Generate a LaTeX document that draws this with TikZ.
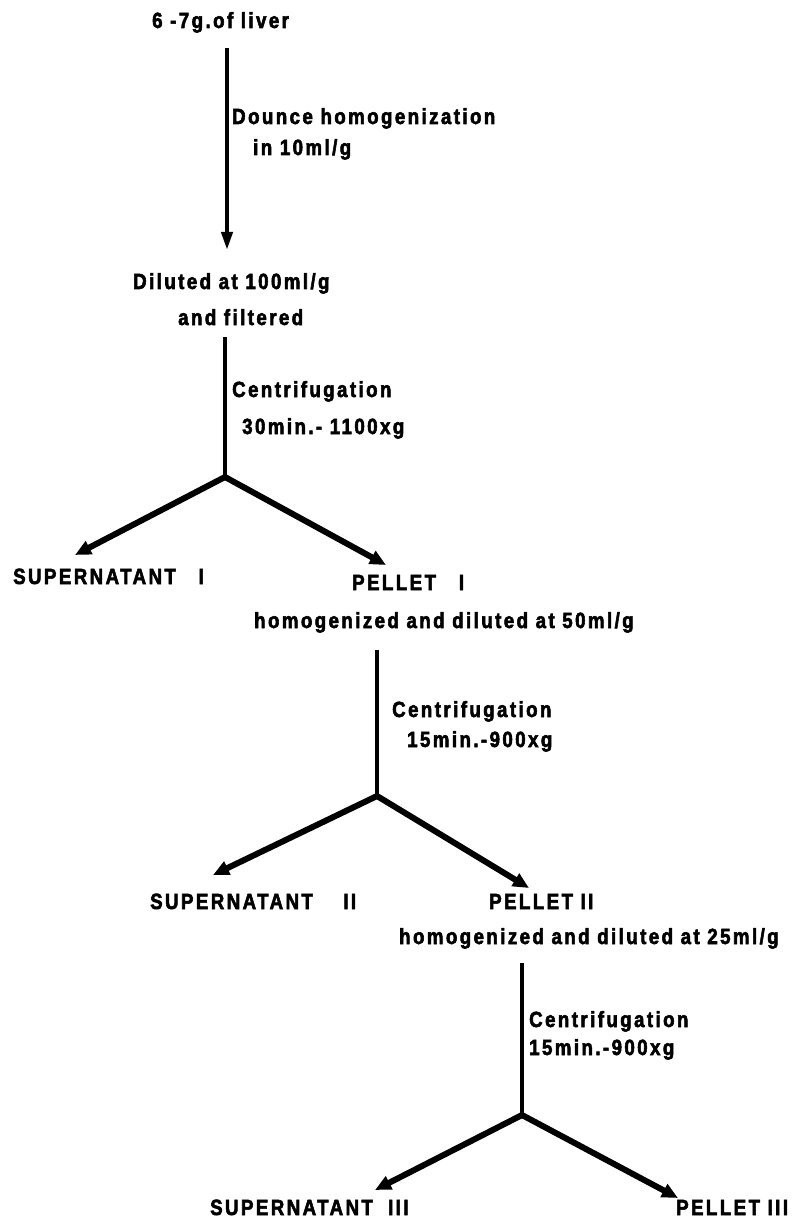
\documentclass[tikz,border=0pt]{standalone}
\usepackage{fontspec}
\setmainfont{Liberation Sans}[FakeStretch=0.85, LetterSpace=11, BoldFeatures={FakeBold=2.5}]
\usetikzlibrary{arrows.meta}
\begin{document}
\begin{tikzpicture}[x=1pt,y=-1pt,
  lbl/.style={font=\fontsize{22}{26}\selectfont\bfseries, inner sep=0pt, anchor=base west},
  vline/.style={line width=4pt},
  downarrow/.style={line width=4pt, -{Triangle[length=18pt,width=11pt]}},
  brarrow/.style={line width=6pt, -{Triangle[length=16pt,width=14pt]}}]
\useasboundingbox (0,0) rectangle (805,1222);
% texts
\node[lbl] (liver) at (152,28) {6 -7g.of liver};
\node[lbl] (dounce) at (232,124) {Dounce homogenization};
\node[lbl] (in10) at (253,155) {in 10ml/g};
\node[lbl] (diluted) at (133,289) {Diluted at 100ml/g};
\node[lbl] (filtered) at (178,325) {and filtered};
\node[lbl] (cenA) at (232,397) {Centrifugation};
\node[lbl] (timeA) at (242,434) {30min.- 1100xg};
\node[lbl] (supA) at (13,584) {SUPERNATANT\ \ \ I};
\node[lbl] (pelA) at (352,590) {PELLET\ \ \ I};
\node[lbl] (homA) at (254,628) {homogenized and diluted at 50ml/g};
\node[lbl] (cenB) at (392,717) {Centrifugation};
\node[lbl] (timeB) at (407,747) {15min.-900xg};
\node[lbl] (supB) at (150,909) {SUPERNATANT\ \ \ \ II};
\node[lbl] (pelB) at (489,909) {PELLET II};
\node[lbl] (homB) at (399,944) {homogenized and diluted at 25ml/g};
\node[lbl] (cenC) at (529,1027) {Centrifugation};
\node[lbl] (timeC) at (529,1055) {15min.-900xg};
\node[lbl] (supC) at (210,1215) {SUPERNATANT\ \ III};
\node[lbl] (pelC) at (676,1215) {PELLET\ III};
% coordinates
\coordinate (t1) at (227,48);
\coordinate (e1) at (227,250);
\coordinate (t2) at (225,337);
\coordinate (b2) at (225,477);
\coordinate (l2) at (75,555);
\coordinate (r2) at (386,565);
\coordinate (t3) at (377,650);
\coordinate (b3) at (377,796);
\coordinate (l3) at (213,875);
\coordinate (r3) at (529,888);
\coordinate (t4) at (522,963);
\coordinate (b4) at (522,1115);
\coordinate (l4) at (375,1190);
\coordinate (r4) at (678,1198);
% connectors
\draw[downarrow] (t1) -- (e1);
\draw[vline] (t2) -- (b2);
\draw[brarrow] (b2) -- (l2);
\draw[brarrow] (b2) -- (r2);
\draw[vline] (t3) -- (b3);
\draw[brarrow] (b3) -- (l3);
\draw[brarrow] (b3) -- (r3);
\draw[vline] (t4) -- (b4);
\draw[brarrow] (b4) -- (l4);
\draw[brarrow] (b4) -- (r4);
\end{tikzpicture}
\end{document}
